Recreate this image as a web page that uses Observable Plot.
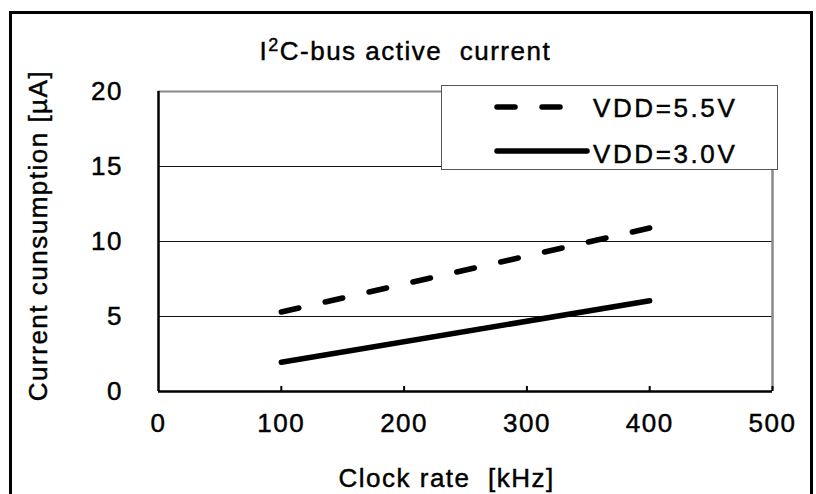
<!DOCTYPE html>
<html>
<head>
<meta charset="utf-8">
<script src="https://cdn.jsdelivr.net/npm/d3@7"></script>
<script src="https://cdn.jsdelivr.net/npm/@observablehq/plot@0.6"></script>
<style>
  html, body { margin: 0; padding: 0; background: #fff; overflow: hidden; }
  #wrap { position: relative; width: 816px; height: 494px; overflow: hidden; }
  #border { position: absolute; left: 9px; top: 11px; width: 804px; height: 600px;
            box-sizing: border-box; border: 3px solid #000; pointer-events: none; }
  #legend { position: absolute; left: 441px; top: 85px; width: 337px; height: 85px;
            box-sizing: border-box; border: 1.5px solid #555; background: #fff; }
  #legend svg { position: absolute; left: -1.5px; top: -1.5px; }
  #legend text { font-family: "Liberation Sans", Arial, sans-serif; font-size: 26px; letter-spacing: 2.6px; fill: #000; }
  svg text { stroke: #000; stroke-width: 0.45px; }
</style>
</head>
<body>
<div id="wrap"><div id="chart"></div><div id="border"></div><div id="legend"></div></div>
<script>
// ---- data ----
const titleText = "I2C-bus active  current";
const xLabel = "Clock rate  [kHz]";
const yLabel = "Current cunsumption [µA]";
const seriesNames = ["VDD=5.5V", "VDD=3.0V"];
const clockRate = [100, 400];
const vdd55 = [5.3, 10.9];
const vdd30 = [1.95, 6.05];
const xTicks = [0, 100, 200, 300, 400, 500];
const yTicks = [0, 5, 10, 15, 20];
const gridY = [5, 10, 15];

const d55 = clockRate.map((x, i) => ({x, y: vdd55[i]}));
const d30 = clockRate.map((x, i) => ({x, y: vdd30[i]}));

const chart = Plot.plot({
  width: 816,
  height: 494,
  marginLeft: 158,
  marginRight: 44,
  marginTop: 91,
  marginBottom: 103,
  style: {fontFamily: "Liberation Sans, Arial, sans-serif", fontSize: "26px", color: "#000", background: "transparent", letterSpacing: "1.5px"},
  x: {domain: [0, 500]},
  y: {domain: [0, 20]},
  marks: [
    Plot.ruleY(gridY, {stroke: "#111", strokeWidth: 1}),
    Plot.ruleY([20], {stroke: "#8a8a8a", strokeWidth: 2}),
    Plot.ruleX([500], {stroke: "#8a8a8a", strokeWidth: 2.5}),
    Plot.tickX(xTicks.slice(1), {x: d => d, insetTop: 295, stroke: "#000", strokeWidth: 2}),
    Plot.ruleX([0], {stroke: "#000", strokeWidth: 2.5}),
    Plot.ruleY([0], {stroke: "#000", strokeWidth: 2.5}),
    Plot.line(d55, {x: "x", y: "y", stroke: "#000", strokeWidth: 5.5, strokeDasharray: "18,27", strokeLinecap: "round"}),
    Plot.line(d30, {x: "x", y: "y", stroke: "#000", strokeWidth: 5.5, strokeLinecap: "round"}),
    Plot.axisX({ticks: xTicks, tickSize: 0, tickPadding: 22, label: null, tickFormat: d => String(d)}),
    Plot.axisY({ticks: yTicks, tickSize: 0, tickPadding: 35.5, label: null, tickFormat: d => String(d)}),
    Plot.text([titleText], {frameAnchor: "top-left", text: d => d, dx: 101, dy: -32, textAnchor: "start", lineAnchor: "bottom", fontSize: 26}),
    Plot.text([xLabel], {frameAnchor: "bottom-left", text: d => d, dx: 180, dy: 95, textAnchor: "start", lineAnchor: "bottom", fontSize: 26}),
    Plot.text([yLabel], {frameAnchor: "left", text: d => d, dx: -120, dy: -6, rotate: -90, textAnchor: "middle", lineAnchor: "middle", fontSize: 26, letterSpacing: "1.2px"})
  ]
});
document.getElementById("chart").appendChild(chart);

// superscript "2" in the title
d3.select(chart).selectAll("text").filter(function () { return this.textContent === titleText; })
  .each(function () {
    const t = d3.select(this);
    t.text(null);
    t.append("tspan").text("I");
    t.append("tspan").attr("font-size", 18).attr("dy", -9).text("2");
    t.append("tspan").attr("dy", 9).text(titleText.slice(2));
  });

// ---- legend ----
const ns = "http://www.w3.org/2000/svg";
const lg = document.createElementNS(ns, "svg");
lg.setAttribute("width", 337); lg.setAttribute("height", 85);
const rows = [
  {name: seriesNames[0], y: 22, x2: 124, dash: "18,27", base: 32},
  {name: seriesNames[1], y: 66, x2: 146, dash: null, base: 78}
];
for (const r of rows) {
  const l = document.createElementNS(ns, "line");
  l.setAttribute("x1", 56); l.setAttribute("x2", r.x2);
  l.setAttribute("y1", r.y); l.setAttribute("y2", r.y);
  l.setAttribute("stroke", "#000"); l.setAttribute("stroke-width", 5.5);
  l.setAttribute("stroke-linecap", "round");
  if (r.dash) l.setAttribute("stroke-dasharray", r.dash);
  lg.appendChild(l);
  const t = document.createElementNS(ns, "text");
  t.setAttribute("x", 152); t.setAttribute("y", r.base);
  t.textContent = r.name;
  lg.appendChild(t);
}
document.getElementById("legend").appendChild(lg);
</script>
</body>
</html>
